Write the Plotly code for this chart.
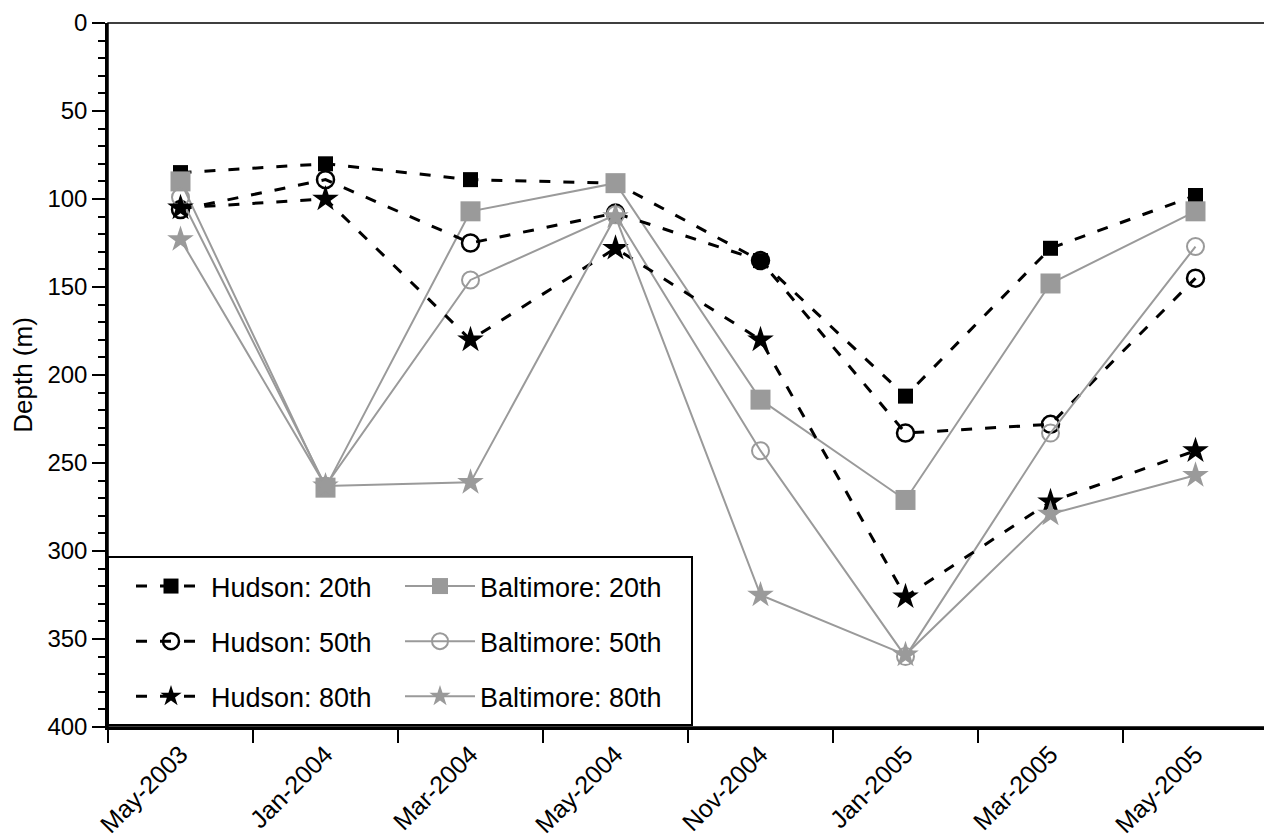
import plotly.graph_objects as go

categories = ["May-2003", "Jan-2004", "Mar-2004", "May-2004",
              "Nov-2004", "Jan-2005", "Mar-2005", "May-2005"]

hudson_20 = [85, 80, 89, 91, 135, 212, 128, 98]
hudson_50 = [106, 89, 125, 108, 135, 233, 228, 145]
hudson_80 = [105, 100, 180, 128, 180, 326, 272, 243]
baltimore_20 = [90, 264, 107, 91, 214, 271, 148, 107]
baltimore_50 = [99, 263, 146, 109, 243, 360, 233, 127]
baltimore_80 = [123, 263, 261, 110, 325, 359, 279, 257]

y_ticks = [0, 50, 100, 150, 200, 250, 300, 350, 400]

BLACK = "#000000"
GRAY = "#9a9a9a"
FONT = "Liberation Sans, Arial, Helvetica, sans-serif"

fig = go.Figure()

def hudson(name, y, symbol, size, group):
    mk = dict(symbol=symbol, size=size, color=BLACK)
    if symbol.endswith("open"):
        mk["line"] = dict(color=BLACK, width=2.5)
    fig.add_trace(go.Scatter(
        x=categories, y=y, name=name, mode="lines+markers",
        line=dict(color=BLACK, width=3, dash="11px,13px"),
        marker=mk, legend="legend", legendgroup=group))

def baltimore(name, y, symbol, size, group):
    mk = dict(symbol=symbol, size=size, color=GRAY)
    if symbol.endswith("open"):
        mk["line"] = dict(color=GRAY, width=2)
    fig.add_trace(go.Scatter(
        x=categories, y=y, name=name, mode="lines+markers",
        line=dict(color=GRAY, width=2),
        marker=mk, legend="legend2", legendgroup=group))

hudson("Hudson: 20th", hudson_20, "square", 15, "h20")
baltimore("Baltimore: 20th", baltimore_20, "square", 20, "b20")
hudson("Hudson: 50th", hudson_50, "circle-open", 17, "h50")
baltimore("Baltimore: 50th", baltimore_50, "circle-open", 17, "b50")
hudson("Hudson: 80th", hudson_80, "star", 20, "h80")
baltimore("Baltimore: 80th", baltimore_80, "star", 20, "b80")

# page adds an 8px body margin; plot area shown at x 108..1268, y 23..727
OFF = 8
TOP, BOT, LEFT, RIGHT = 23, 727, 108, 1268
W, H = 1264, 831
L, T = LEFT - OFF, TOP - OFF
R = W - (RIGHT - OFF)
B = H - (BOT - OFF)

def px_x(p):
    return (p - LEFT) / (RIGHT - LEFT)

def px_y(p):
    return 1 - (p - TOP) / (BOT - TOP)

leg_common = dict(
    font=dict(family=FONT, size=27, color=BLACK),
    bgcolor="rgba(0,0,0,0)", borderwidth=0,
    tracegroupgap=17, itemwidth=70,
    xanchor="left", yanchor="top", orientation="v",
)

fig.update_layout(
    template="none",
    width=W, height=H,
    margin=dict(l=L, r=R, t=T, b=B, autoexpand=False),
    paper_bgcolor="white", plot_bgcolor="white",
    font=dict(family=FONT, size=20, color=BLACK),
    showlegend=True,
    legend=dict(x=px_x(131), y=px_y(562), **leg_common),
    legend2=dict(x=px_x(400), y=px_y(562), **leg_common),
    xaxis=dict(
        type="category", categoryorder="array", categoryarray=categories,
        range=[-0.5, 7.5], tickson="boundaries", automargin=False,
        ticks="outside", ticklen=13, tickwidth=2, tickcolor=BLACK,
        tickangle=-45, tickfont=dict(family=FONT, size=25),
        showline=True, linewidth=2.5, linecolor=BLACK,
        showgrid=False, zeroline=False,
    ),
    yaxis=dict(
        range=[400, 0], tickmode="array", tickvals=y_ticks, automargin=False,
        ticks="outside", ticklen=13, tickwidth=2, tickcolor=BLACK,
        minor=dict(dtick=10, ticks="outside", ticklen=7, tickwidth=2, tickcolor=BLACK),
        tickfont=dict(family=FONT, size=24),
        ticklabeloverflow="allow",
        showline=True, linewidth=2.5, linecolor=BLACK,
        showgrid=False, zeroline=False,
        title=dict(text="Depth (m)", font=dict(family=FONT, size=26), standoff=8),
    ),
    shapes=[
        dict(type="rect", xref="paper", yref="paper", x0=0, x1=1, y0=0, y1=1,
             line=dict(color=BLACK, width=1.5), layer="above"),
        dict(type="rect", xref="paper", yref="paper",
             x0=0, x1=px_x(692), y0=px_y(725), y1=px_y(557),
             line=dict(color=BLACK, width=2), fillcolor="white", layer="below"),
    ],
)

fig.write_html("out.html")
